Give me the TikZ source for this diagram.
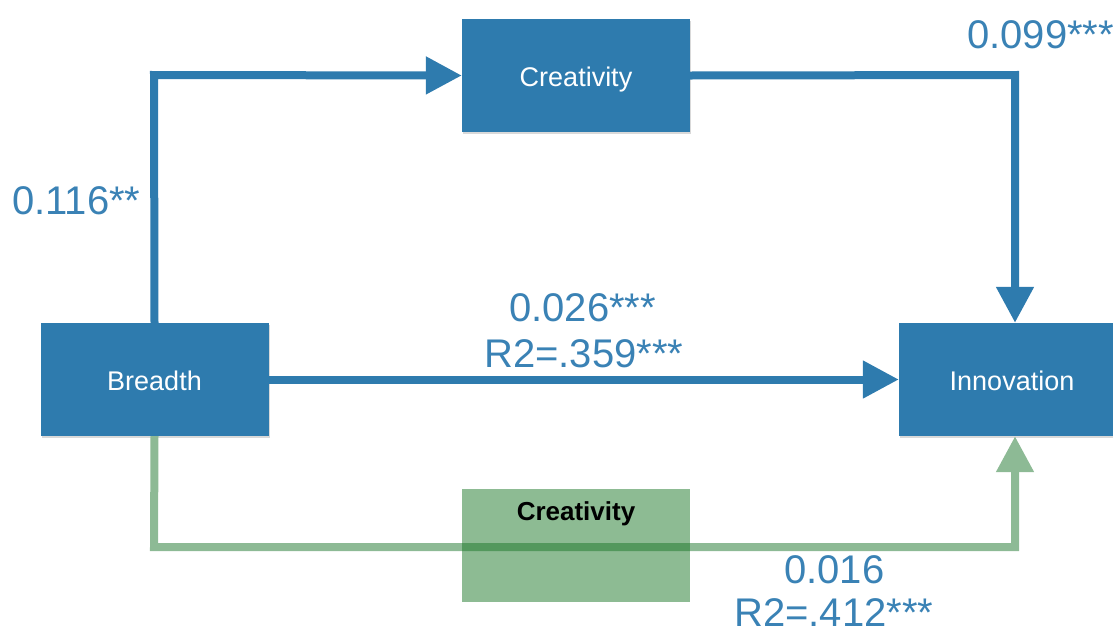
\documentclass[tikz,border=0pt]{standalone}
\usepackage{fontspec}
\setmainfont{Liberation Sans}
\usetikzlibrary{arrows.meta,shadows}
\definecolor{pathblue}{RGB}{46,123,174}
\definecolor{labelblue}{RGB}{58,130,181}
\definecolor{pathgreen}{RGB}{141,186,149}
\definecolor{boxgreen}{RGB}{27,119,39}
\begin{document}
\begin{tikzpicture}[x=1pt,y=-1pt,
  varbox/.style={fill=pathblue, text=white, font=\fontsize{27}{30}\selectfont,
    minimum width=228pt, minimum height=113pt, inner sep=0pt,
    text height=21pt, text depth=0pt,
    drop shadow={opacity=0.3, shadow xshift=1pt, shadow yshift=-2pt}},
  modbox/.style={fill=boxgreen, fill opacity=0.5,
    minimum width=228pt, minimum height=113pt, inner sep=0pt},
  modtext/.style={text=black, font=\bfseries\fontsize{26}{28}\selectfont,
    anchor=base, inner sep=0pt},
  coef/.style={text=labelblue, font=\fontsize{40}{44}\selectfont, anchor=base west, inner sep=0pt},
  bluepath/.style={draw=pathblue, line width=8pt, -{Triangle[length=36pt,width=36pt]}},
  greenpath/.style={draw=pathgreen, line width=8pt, -{Triangle[length=36pt,width=36pt]}}]
\useasboundingbox (0,0) rectangle (1113,635);

% variables
\node[varbox] (breadth) at (154.5,379.5) {Breadth};
\node[varbox] (creat) at (576,75.5) {Creativity};
\node[varbox, minimum width=226pt] (innov) at (1012,379.5) {Innovation};

% paths
\draw[bluepath] (breadth.north) -- (154,75) -- (creat.west);
\draw[bluepath] (creat.east) -- (1015,75) -- (innov.north -| 1015,0);
\draw[bluepath] (breadth.east) -- (innov.west);
\draw[greenpath] (breadth.south) -- (154,547) -- (1015,547) -- (innov.south -| 1015,0);

% moderator box laid over the green path
\node[modbox] (modcreat) at (576,545.5) {};
\node[modtext] (modlabel) at (576,520) {Creativity};

% coefficients
\node[coef] (c1) at (12,214) {0.116**};
\node[coef] (c2) at (967,48) {0.099***};
\node[coef] (c3) at (509,321) {0.026***};
\node[coef] (c4) at (484,367) {R2=.359***};
\node[coef] (c5) at (784,583) {0.016};
\node[coef] (c6) at (734,626) {R2=.412***};
\end{tikzpicture}
\end{document}
